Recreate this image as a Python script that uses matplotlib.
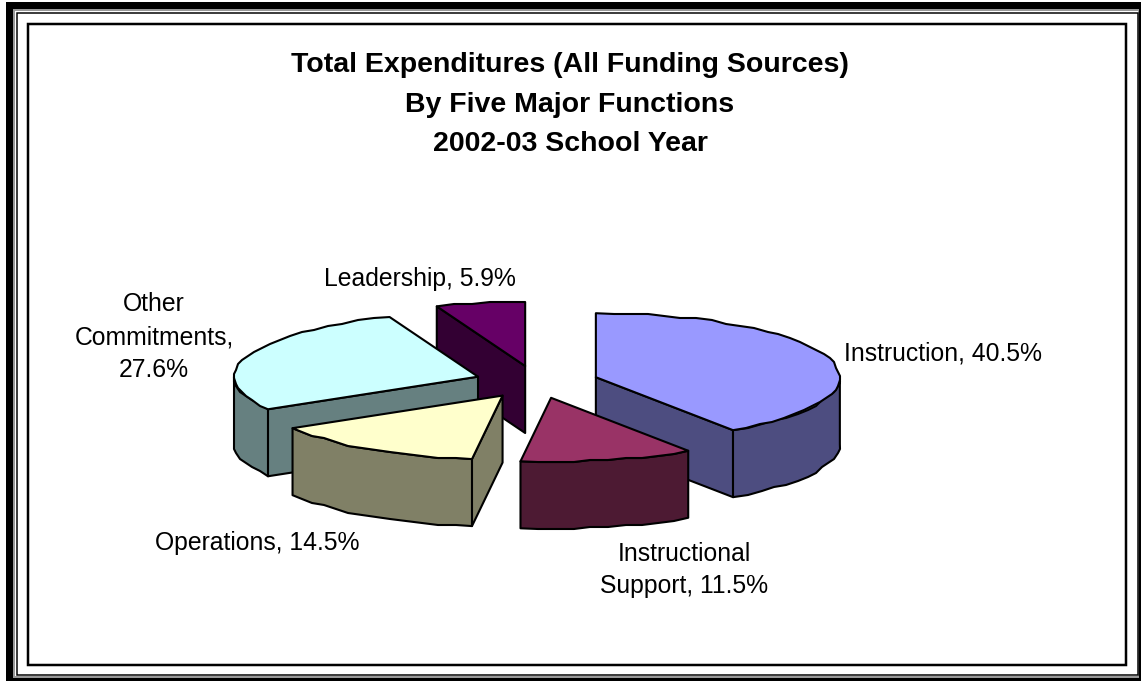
import numpy as np
import matplotlib
matplotlib.use("Agg")
import matplotlib.pyplot as plt
from matplotlib.patches import Polygon, Rectangle

plt.rcParams['font.family'] = ['Liberation Sans', 'DejaVu Sans']

# Shares by function, clockwise from 12 o'clock
funciones = ["Instruction", "Instructional\nSupport", "Operations", "Other\nCommitments", "Leadership"]
separadores = [", ", ", ", ", ", ",\n", ", "]
porcentajes = [40.5, 11.5, 14.5, 27.6, 5.9]
colores = ["#9999FF", "#993366", "#FFFFCC", "#CCFFFF", "#660066"]
oscuros = ["#4D4D80", "#4D1A33", "#808066", "#668080", "#330033"]
titulo = "Total Expenditures (All Funding Sources)\nBy Five Major Functions\n2002-03 School Year"

# Pie geometry in pixels
CX, CY = 536.6, 382.0
RX, RY = 244.0, 64.0
ALTO = 67.0
EXPLOSION = 62.0
PASO = 4.0
REJILLA = 2.0

# Label anchor and alignment per slice
etiquetas = [
    (844, 353, "left"),
    (684, 570, "center"),
    (257, 543, "center"),
    (154, 337, "center"),
    (420, 279, "center"),
]
# Back slices first so the front ones cover them
orden = [4, 0, 3, 1, 2]

fig = plt.figure(figsize=(11.41, 6.83), dpi=100)
ax = fig.add_axes([0, 0, 1, 1])
ax.set_xlim(0, 1141)
ax.set_ylim(683, 0)
ax.axis("off")


def relleno(x0, y0, x1, y1, color):
    ax.add_patch(Rectangle((x0, y0), x1 - x0, y1 - y0, facecolor=color, edgecolor="none"))


def linea(x0, y0, x1, y1, grosor):
    ax.add_patch(Rectangle((x0, y0), x1 - x0, y1 - y0, fill=False, edgecolor="black", linewidth=grosor * 0.72))


# Frame around the chart
relleno(6, 2, 1140.5, 680.5, "black")
relleno(13, 9, 1139, 677.5, "#999999")
relleno(15, 11, 1137.5, 676, "white")
linea(16.5, 12.5, 1138, 675, 1.5)
linea(28, 24, 1126, 665, 2.5)


def punto(x0, y0, ang):
    return x0 + RX * np.sin(ang), y0 - RY * np.cos(ang)


def arco(x0, y0, a, b):
    # Rim points sit on a coarse pixel grid, ends stay exact
    n = max(int(np.degrees(b - a) / PASO), 1)
    angs = np.linspace(a, b, n + 1)
    pts = np.column_stack(punto(x0, y0, angs))
    pts[1:-1] = np.round(pts[1:-1] / REJILLA) * REJILLA
    return pts


def cara(pts, color, z):
    ax.add_patch(Polygon(pts, closed=True, facecolor=color, edgecolor="black", linewidth=1.5, joinstyle="round", zorder=z))


acum = np.cumsum([0] + porcentajes)
for z, i in enumerate(orden):
    a = np.radians(acum[i] * 3.6)
    b = np.radians(acum[i + 1] * 3.6)
    medio = (a + b) / 2
    x0 = CX + EXPLOSION * np.sin(medio)
    y0 = CY - EXPLOSION * RY / RX * np.cos(medio)
    base = z * 10 + 2

    # Straight cut faces, only those turned towards the viewer
    caras = []
    if np.sin(a) < -1e-6:
        caras.append(a)
    if np.sin(b) > 1e-6:
        caras.append(b)
    for ang in caras:
        px, py = punto(x0, y0, ang)
        cara([(x0, y0), (px, py), (px, py + ALTO), (x0, y0 + ALTO)], oscuros[i], base)

    # Curved rim, only the part facing front
    ini = max(a, np.pi / 2)
    fin = min(b, 3 * np.pi / 2)
    if fin > ini:
        arriba = arco(x0, y0, ini, fin)
        abajo = arriba[::-1] + [0, ALTO]
        cara(np.vstack([arriba, abajo]), oscuros[i], base + 1)

    # Top face
    cara(np.vstack([[(x0, y0)], arco(x0, y0, a, b)]), colores[i], base + 2)

for i, (x, y, ha) in enumerate(etiquetas):
    ax.text(x, y, f"{funciones[i]}{separadores[i]}{porcentajes[i]}%", ha=ha, va="center", fontsize=17.8,
            linespacing=1.46, color="black", zorder=100)

ax.text(570, 104.5, titulo, ha="center", va="center", fontsize=20.5, fontweight="bold",
        linespacing=1.66, color="black", zorder=100)

fig.savefig("out.png", dpi=100)
